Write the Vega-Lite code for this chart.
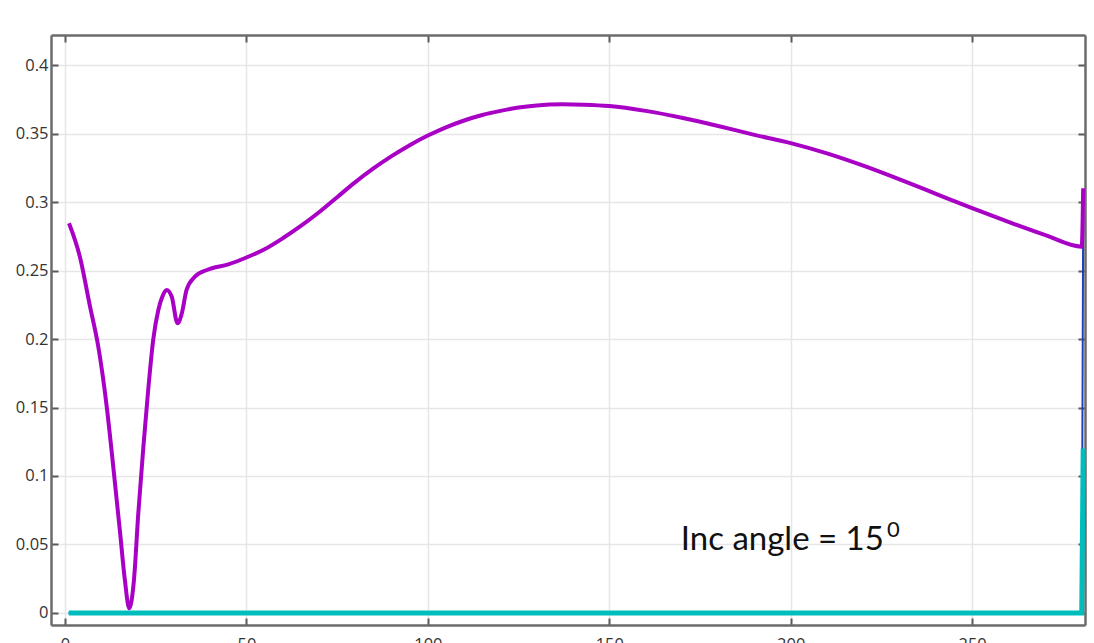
{
  "$schema": "https://vega.github.io/schema/vega-lite/v6.json",
  "autosize": {"type": "none"},
  "padding": {"left": 51, "top": 35, "right": 9, "bottom": 18},
  "width": 1034,
  "height": 590,
  "background": "white",
  "config": {
    "view": {"stroke": null},
    "axis": {
      "domainColor": "#6b6b6b", "domainWidth": 2.5,
      "tickColor": "#5a5a5a", "tickWidth": 2, "tickSize": -7,
      "gridColor": "#e6e6e6", "gridWidth": 1.5,
      "labelFont": "Open Sans", "labelFontSize": 16.5, "labelColor": "#333333",
      "title": null
    }
  },
  "datasets": {
    "purple": [
      {"x": 1.1, "y": 0.2845}, {"x": 4.1, "y": 0.26}, {"x": 6.9, "y": 0.2236}, {"x": 9.2, "y": 0.194},
      {"x": 11.5, "y": 0.1506}, {"x": 13.3, "y": 0.1068}, {"x": 15.2, "y": 0.058}, {"x": 16.5, "y": 0.024},
      {"x": 17.7, "y": 0.0034}, {"x": 19.0, "y": 0.024}, {"x": 20.2, "y": 0.0728}, {"x": 21.6, "y": 0.1214},
      {"x": 23.0, "y": 0.165}, {"x": 24.3, "y": 0.1993}, {"x": 25.7, "y": 0.221}, {"x": 27.0, "y": 0.232},
      {"x": 28.0, "y": 0.2358}, {"x": 29.4, "y": 0.231}, {"x": 31.0, "y": 0.2115}, {"x": 32.2, "y": 0.2188},
      {"x": 33.5, "y": 0.2358}, {"x": 35.8, "y": 0.2455}, {"x": 39.1, "y": 0.2504}, {"x": 45.0, "y": 0.2545},
      {"x": 50.0, "y": 0.2595}, {"x": 55.0, "y": 0.2655}, {"x": 60.0, "y": 0.2735}, {"x": 65.0, "y": 0.2825},
      {"x": 70.0, "y": 0.2925}, {"x": 75.0, "y": 0.3035}, {"x": 80.0, "y": 0.3145}, {"x": 85.0, "y": 0.3245},
      {"x": 90.0, "y": 0.3335}, {"x": 95.0, "y": 0.3415}, {"x": 100.0, "y": 0.3485}, {"x": 105.0, "y": 0.3545},
      {"x": 110.0, "y": 0.3595}, {"x": 115.0, "y": 0.3635}, {"x": 120.0, "y": 0.3665}, {"x": 125.0, "y": 0.369},
      {"x": 130.0, "y": 0.3705}, {"x": 137.0, "y": 0.3713}, {"x": 143.0, "y": 0.371}, {"x": 150.0, "y": 0.37},
      {"x": 160.0, "y": 0.3665}, {"x": 170.0, "y": 0.3615}, {"x": 180.0, "y": 0.3555}, {"x": 190.0, "y": 0.349},
      {"x": 200.0, "y": 0.343}, {"x": 210.0, "y": 0.3355}, {"x": 220.0, "y": 0.3265}, {"x": 230.0, "y": 0.3165},
      {"x": 240.0, "y": 0.306}, {"x": 250.0, "y": 0.2955}, {"x": 260.0, "y": 0.2855}, {"x": 270.0, "y": 0.276},
      {"x": 280.2, "y": 0.2674}, {"x": 280.6, "y": 0.31}
    ],
    "blue": [
      {"x": 1.0, "y": 0}, {"x": 280.2, "y": 0}, {"x": 280.6, "y": 0.29}
    ],
    "teal": [
      {"x": 1.0, "y": 0}, {"x": 280.2, "y": 0}, {"x": 280.6, "y": 0.12}
    ],
    "label": [
      {"x": 169.7, "y": 0.046, "t": "Inc angle = 15"}
    ],
    "sup": [
      {"x": 226.5, "y": 0.0555, "t": "0"}
    ]
  },
  "resolve": {"axis": {"x": "independent", "y": "independent"}},
  "layer": [
    {
      "data": {"name": "blue"},
      "mark": {"type": "line", "color": "#1f3fbf", "strokeWidth": 2},
      "encoding": {
        "x": {"field": "x", "type": "quantitative",
              "scale": {"domain": [-3.86, 281.1], "nice": false, "zero": false},
              "axis": {"orient": "bottom", "values": [0, 50, 100, 150, 200, 250], "format": "d", "labelPadding": 18, "grid": true}},
        "y": {"field": "y", "type": "quantitative",
              "scale": {"domain": [-0.00876, 0.4219], "nice": false, "zero": false},
              "axis": {"orient": "left", "values": [0, 0.05, 0.1, 0.15, 0.2, 0.25, 0.3, 0.35, 0.4], "format": "~g", "labelPadding": 10, "grid": true}}
      }
    },
    {
      "data": {"name": "teal"},
      "mark": {"type": "line", "color": "#00bdbd", "strokeWidth": 5},
      "encoding": {
        "x": {"field": "x", "type": "quantitative", "scale": {"domain": [-3.86, 281.1], "nice": false, "zero": false},
              "axis": {"orient": "top", "values": [0, 50, 100, 150, 200, 250], "labels": false, "grid": false}},
        "y": {"field": "y", "type": "quantitative", "scale": {"domain": [-0.00876, 0.4219], "nice": false, "zero": false},
              "axis": {"orient": "right", "values": [0, 0.05, 0.1, 0.15, 0.2, 0.25, 0.3, 0.35, 0.4], "labels": false, "grid": false}}
      }
    },
    {
      "data": {"name": "purple"},
      "mark": {"type": "line", "color": "#a800c4", "strokeWidth": 4, "interpolate": "monotone"},
      "encoding": {
        "x": {"field": "x", "type": "quantitative", "scale": {"domain": [-3.86, 281.1], "nice": false, "zero": false}, "axis": null},
        "y": {"field": "y", "type": "quantitative", "scale": {"domain": [-0.00876, 0.4219], "nice": false, "zero": false}, "axis": null}
      }
    },
    {
      "data": {"name": "label"},
      "mark": {"type": "text", "font": "Lato", "fontSize": 33, "color": "#111111", "align": "left", "baseline": "alphabetic"},
      "encoding": {
        "x": {"field": "x", "type": "quantitative", "axis": null},
        "y": {"field": "y", "type": "quantitative", "axis": null},
        "text": {"field": "t"}
      }
    },
    {
      "data": {"name": "sup"},
      "mark": {"type": "text", "font": "Lato", "fontSize": 22, "color": "#111111", "align": "left", "baseline": "alphabetic"},
      "encoding": {
        "x": {"field": "x", "type": "quantitative", "axis": null},
        "y": {"field": "y", "type": "quantitative", "axis": null},
        "text": {"field": "t"}
      }
    }
  ]
}
